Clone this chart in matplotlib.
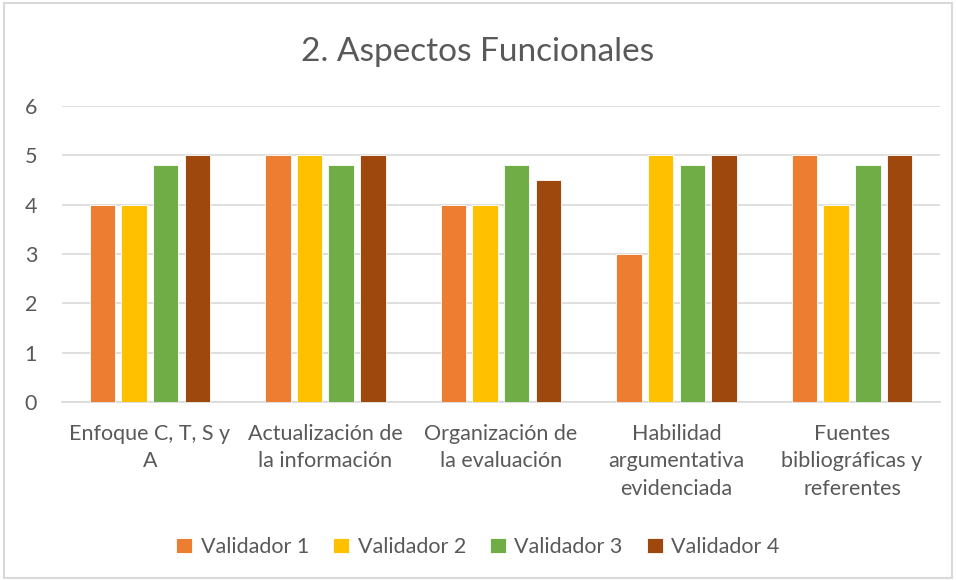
import numpy as np
import matplotlib
matplotlib.use("Agg")
import matplotlib.pyplot as plt

categories = ["Enfoque C, T, S y\nA", "Actualización de\nla información", "Organización de\nla evaluación",
              "Habilidad\nargumentativa\nevidenciada", "Fuentes\nbibliográficas y\nreferentes"]
series_names = ["Validador 1", "Validador 2", "Validador 3", "Validador 4"]
validador_1 = [4, 5, 4, 3, 5]
validador_2 = [4, 5, 4, 5, 4]
validador_3 = [4.8, 4.8, 4.8, 4.8, 4.8]
validador_4 = [5, 5, 4.5, 5, 5]
colors = ["#ED7D31", "#FFC000", "#70AD47", "#9E480E"]

plt.rcParams["font.family"] = ["Lato", "DejaVu Sans"]
txt = "#595959"

fig = plt.figure(figsize=(9.56, 5.8), dpi=100)
ax = fig.add_axes([0.065, 0.307, 0.918, 0.510])

x = np.arange(len(categories))
step = 0.18
width = 0.145
for i, (vals, name) in enumerate(zip([validador_1, validador_2, validador_3, validador_4], series_names)):
    ax.bar(x + (i - 1.5) * step, vals, width, color=colors[i], label=name,
           edgecolor="white", linewidth=0.6, zorder=3)

ax.set_xlim(-0.5, len(categories) - 0.5)
ax.set_ylim(0, 6)
ax.set_yticks(range(7))
ax.grid(axis="y", color="#D9D9D9", linewidth=1.2, zorder=0)
for s in ["top", "right", "left"]:
    ax.spines[s].set_visible(False)
ax.spines["bottom"].set_color("#D9D9D9")
ax.spines["bottom"].set_linewidth(1.2)
ax.tick_params(axis="both", length=0, colors=txt, labelsize=15.5)
ax.tick_params(axis="y", pad=18)
ax.tick_params(axis="x", pad=16)
ax.set_xticks(x)
ax.set_xticklabels(categories, linespacing=1.45)

fig.text(0.5, 0.91, "2. Aspectos Funcionales", ha="center", va="center", fontsize=24, color=txt)

ax.legend(loc="center", bbox_to_anchor=(0.5, 0.057), bbox_transform=fig.transFigure, ncol=4,
          frameon=False, fontsize=15.5, labelcolor=txt, handlelength=0.75, handleheight=0.75,
          handletextpad=0.4, columnspacing=1.1)

# chart border
fig.patches.append(plt.Rectangle((0.004, 0.004), 0.992, 0.99, transform=fig.transFigure,
                                 fill=False, edgecolor="#D9D9D9", linewidth=1.5))

fig.savefig("out.png", dpi=100)
